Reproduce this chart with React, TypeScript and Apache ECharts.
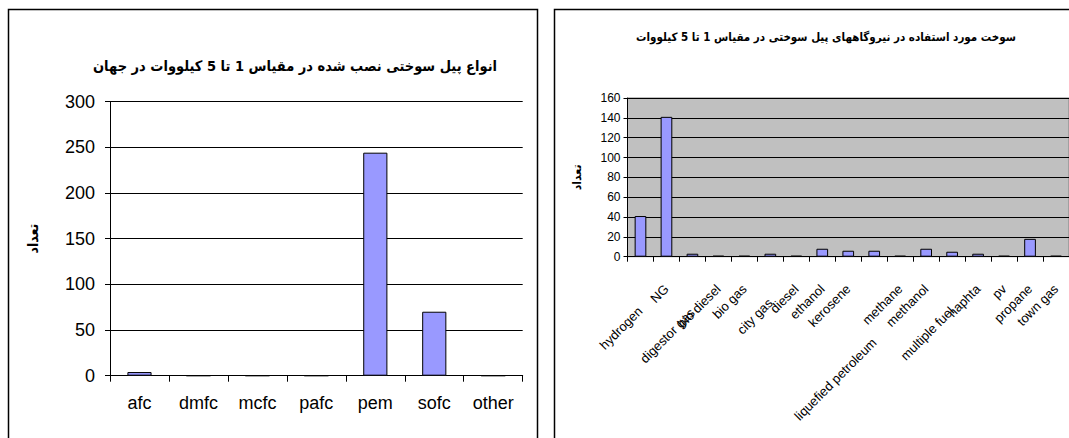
import React, { useEffect, useRef } from "react";
import * as echarts from "echarts";

const leftTitle = "انواع پیل سوختی نصب شده در مقیاس 1 تا 5 کیلووات در جهان";
const rightTitle = "سوخت مورد استفاده در نیروگاههای پیل سوختی در مقیاس 1 تا 5 کیلووات";
const yName = "تعداد";

const leftCategories = ["afc", "dmfc", "mcfc", "pafc", "pem", "sofc", "other"];
const leftValues = [4, 0, 0, 0, 244, 70, 0];
const leftMax = 300;
const leftStep = 50;

const rightCategories = [
  "hydrogen",
  "NG",
  "digestor gas",
  "bio diesel",
  "bio gas",
  "city gas",
  "diesel",
  "ethanol",
  "kerosene",
  "liquefied petroleum",
  "methane",
  "methanol",
  "multiple fuel",
  "naphta",
  "pv",
  "propane",
  "town gas",
];
const rightValues = [41, 141, 3, 1, 1, 3, 1, 8, 6, 6, 1, 8, 5, 3, 1, 18, 1];
const rightMax = 160;
const rightStep = 20;

const FONT = "'Liberation Sans', Arial, sans-serif";
const AR_FONT = "'DejaVu Sans Condensed', 'DejaVu Sans', sans-serif";

// staggered (lowered) labels, as in the spreadsheet rendering: extra drop in px
const labelDrop: Record<string, number> = {
  hydrogen: 22,
  "digestor gas": 24,
  "city gas": 14,
  "liquefied petroleum": 54,
  "multiple fuel": 22,
};

function buildRich() {
  const rich: any = {};
  Object.keys(labelDrop).forEach((k, i) => {
    const d = labelDrop[k] / Math.SQRT2;
    rich["d" + i] = {
      fontFamily: FONT,
      fontSize: 13,
      color: "#000",
      padding: [Math.round(2 * d), Math.round(d), 0, 0],
    };
  });
  return rich;
}

export default function App() {
  const ref = useRef<HTMLDivElement>(null);

  useEffect(() => {
    if (!ref.current) return;
    const chart = echarts.init(ref.current, null, { renderer: "svg" });
    const dropKeys = Object.keys(labelDrop);
    const option: any = {
      animation: false,
      backgroundColor: "#ffffff",
      title: [
        {
          text: leftTitle,
          left: 290,
          top: 53,
          textAlign: "center",
          textStyle: { fontFamily: AR_FONT, fontSize: 14.5, fontWeight: "bold", color: "#000" },
        },
        {
          text: rightTitle,
          left: 821,
          top: 26,
          textAlign: "center",
          textStyle: { fontFamily: AR_FONT, fontSize: 11.5, fontWeight: "bold", color: "#000" },
        },
      ],
      graphic: [
        {
          type: "rect",
          shape: { x: 8.5, y: 9.5, width: 529, height: 450 },
          style: { fill: "none", stroke: "#000", lineWidth: 1.5 },
          silent: true,
        },
        {
          type: "rect",
          shape: { x: 554.5, y: 9.5, width: 530, height: 450 },
          style: { fill: "none", stroke: "#000", lineWidth: 1.5 },
          silent: true,
        },
      ],
      grid: [
        { left: 110, top: 101.5, width: 412.7, height: 274.2, show: false },
        {
          left: 627.5,
          top: 98,
          width: 442,
          height: 158.7,
          show: true,
          backgroundColor: "#c0c0c0",
          borderColor: "#808080",
          borderWidth: 1,
        },
      ],
      xAxis: [
        {
          type: "category",
          gridIndex: 0,
          data: leftCategories,
          boundaryGap: true,
          axisLine: { show: true, lineStyle: { color: "#000", width: 1 } },
          axisTick: { show: true, length: 6, alignWithLabel: false, lineStyle: { color: "#000" } },
          axisLabel: { interval: 0, margin: 18, fontFamily: FONT, fontSize: 18, color: "#000" },
          splitLine: { show: false },
        },
        {
          type: "category",
          gridIndex: 1,
          data: rightCategories,
          boundaryGap: true,
          axisLine: { show: true, lineStyle: { color: "#000", width: 1 } },
          axisTick: { show: true, length: 5, alignWithLabel: false, lineStyle: { color: "#000" } },
          axisLabel: {
            interval: 0,
            rotate: 45,
            margin: 30,
            fontFamily: FONT,
            fontSize: 13,
            color: "#000",
            rich: buildRich(),
            formatter: (v: string) => {
              const i = dropKeys.indexOf(v);
              return i >= 0 ? `{d${i}|${v}}` : v;
            },
          },
          splitLine: { show: false },
        },
      ],
      yAxis: [
        {
          type: "value",
          gridIndex: 0,
          min: 0,
          max: leftMax,
          interval: leftStep,
          name: yName,
          nameLocation: "middle",
          nameGap: 70,
          nameRotate: 90,
          nameTextStyle: { fontFamily: AR_FONT, fontSize: 14, fontWeight: "bold", color: "#000" },
          axisLine: { show: true, lineStyle: { color: "#000", width: 1 } },
          axisTick: { show: true, length: 5, lineStyle: { color: "#000" } },
          axisLabel: { margin: 15, fontFamily: FONT, fontSize: 18, color: "#000" },
          splitLine: { show: true, lineStyle: { color: "#000", width: 1 } },
        },
        {
          type: "value",
          gridIndex: 1,
          min: 0,
          max: rightMax,
          interval: rightStep,
          name: yName,
          nameLocation: "middle",
          nameGap: 45,
          nameRotate: 90,
          nameTextStyle: { fontFamily: AR_FONT, fontSize: 12, fontWeight: "bold", color: "#000" },
          axisLine: { show: true, lineStyle: { color: "#000", width: 1 } },
          axisTick: { show: true, length: 4, lineStyle: { color: "#000" } },
          axisLabel: { margin: 7, fontFamily: FONT, fontSize: 12, color: "#000" },
          splitLine: { show: true, lineStyle: { color: "#000", width: 1 } },
        },
      ],
      series: [
        {
          type: "bar",
          xAxisIndex: 0,
          yAxisIndex: 0,
          data: leftValues,
          barWidth: "41%",
          itemStyle: { color: "#9999ff", borderColor: "#000", borderWidth: 1 },
        },
        {
          type: "bar",
          xAxisIndex: 1,
          yAxisIndex: 1,
          data: rightValues,
          barWidth: "45%",
          itemStyle: { color: "#9999ff", borderColor: "#000", borderWidth: 1 },
        },
      ],
    };
    chart.setOption(option);
    return () => chart.dispose();
  }, []);

  return (
    <div
      ref={ref}
      style={{ position: "fixed", left: 0, top: 0, width: 1069, height: 438 }}
    />
  );
}
